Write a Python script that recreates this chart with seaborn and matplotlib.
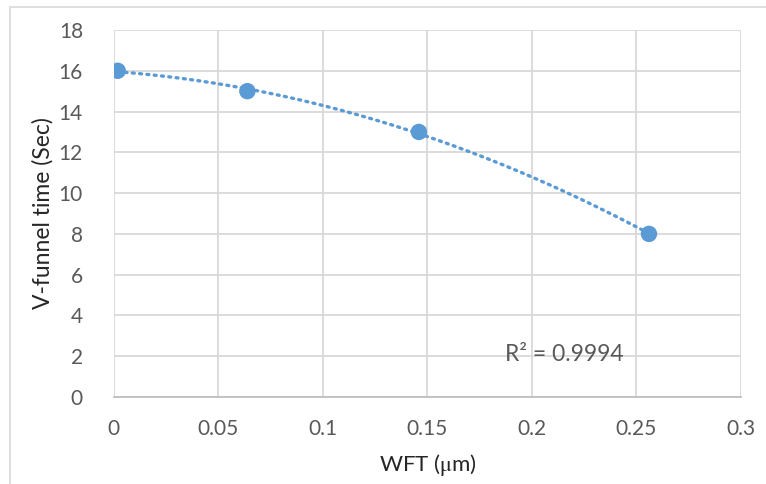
import numpy as np
import pandas as pd
import seaborn as sns
import matplotlib
matplotlib.use("Agg")
import matplotlib.pyplot as plt
from matplotlib.patches import Rectangle

# Data
wft = [0.002, 0.064, 0.146, 0.256]
vfunnel = [16, 15, 13, 8]
x_ticks = [0, 0.05, 0.1, 0.15, 0.2, 0.25, 0.3]
x_tick_labels = ["0", "0.05", "0.1", "0.15", "0.2", "0.25", "0.3"]
y_ticks = [0, 2, 4, 6, 8, 10, 12, 14, 16, 18]
r2_label = "R² = 0.9994"

df = pd.DataFrame({"WFT": wft, "V": vfunnel})

sns.set_theme(style="white")
plt.rcParams["font.family"] = ["Lato", "DejaVu Sans"]
plt.rcParams["mathtext.fontset"] = "stix"

fig = plt.figure(figsize=(7.66, 4.84), dpi=100)
ax = fig.add_axes([113.5 / 766, 1 - 397 / 484, (741 - 113.5) / 766, (397 - 30) / 484])

blue = "#5B9BD5"
grid_c = "#D9D9D9"
text_c = "#595959"

# quadratic trendline
coef = np.polyfit(df["WFT"], df["V"], 2)
xs = np.linspace(min(wft), max(wft), 200)
trend = pd.DataFrame({"x": xs, "y": np.polyval(coef, xs)})
sns.lineplot(data=trend, x="x", y="y", ax=ax, color=blue, lw=2.4,
             linestyle=(0, (0.6, 1.6)), dash_capstyle="round", zorder=3)
sns.scatterplot(data=df, x="WFT", y="V", ax=ax, color=blue, s=140,
                edgecolor="none", zorder=4)

ax.set_xlim(0, 0.3)
ax.set_ylim(0, 18)
ax.set_xticks(x_ticks)
ax.set_xticklabels(x_tick_labels)
ax.set_yticks(y_ticks)
ax.grid(True, color=grid_c, lw=1.3)
ax.set_axisbelow(True)
for s in ["top", "right", "left"]:
    ax.spines[s].set_visible(False)
ax.spines["bottom"].set_color("#BFBFBF")
ax.spines["bottom"].set_linewidth(1.3)
ax.tick_params(axis="both", length=0, labelsize=15, colors=text_c)
ax.tick_params(axis="y", pad=22)
ax.tick_params(axis="x", pad=16)

ax.set_xlabel(r"WFT ($\mathrm{\mu}$m)", fontsize=16, color="#262626", va="center")
ax.set_ylabel("V-funnel time (Sec)", fontsize=16.5, color="#262626", va="center")
ax.xaxis.set_label_coords(0.5, -0.185)
ax.yaxis.set_label_coords(-0.112, 0.5)

ax.text(0.187, 2.1, r2_label, fontsize=16.5, color=text_c, va="center", ha="left")

# chart border
fig.patches.append(Rectangle((9.5 / 766, -0.1), 1.2, 1 - 6.5 / 484 + 0.1,
                             transform=fig.transFigure, fill=False,
                             edgecolor="#D9D9D9", lw=1.2))

fig.savefig("out.png", dpi=100)
